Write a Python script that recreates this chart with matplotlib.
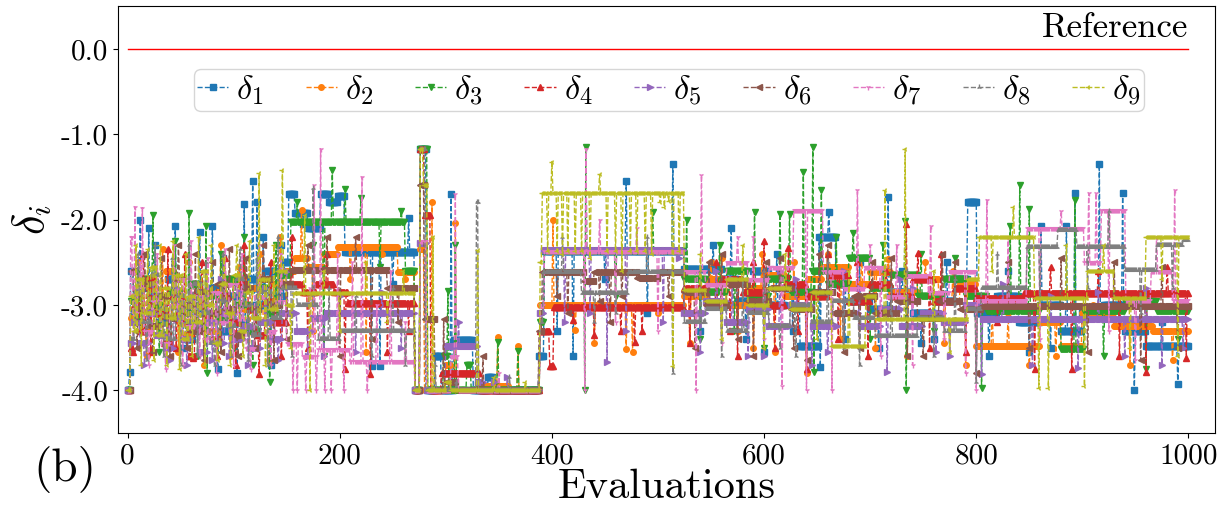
import numpy as np
import matplotlib
matplotlib.use("Agg")
import matplotlib.pyplot as plt

plt.rcParams['font.family'] = ['cmr10', 'DejaVu Serif']
plt.rcParams['mathtext.fontset'] = 'cm'
plt.rcParams['axes.unicode_minus'] = False

N_EVAL = 1001

# each series: held levels (start index, value) and one-point excursions (index, value)
d1_steps = [(0,-4.0),(2,-3.78),(3,-2.6),(6,-3.1),(10,-2.8),(16,-3.3),(22,-2.9),(30,-3.2),(38,-2.7),(46,-3.0),
            (55,-3.4),(62,-2.9),(70,-3.1),(78,-2.8),(86,-3.3),(95,-2.9),(104,-3.2),(112,-2.7),(120,-3.0),(130,-2.6),
            (140,-2.9),(148,-2.5),(152,-1.7),(158,-1.92),(170,-2.1),(182,-1.7),(190,-1.8),(198,-1.72),(205,-2.38),
            (271,-4.0),(276,-1.17),(282,-4.0),(290,-3.6),(296,-4.0),(308,-3.41),(326,-4.0),(340,-3.85),(345,-4.0),
            (388,-3.6),(393,-2.37),(525,-2.58),(560,-2.7),(575,-2.95),(590,-2.6),(605,-3.0),(620,-2.8),(634,-3.48),
            (652,-2.2),(668,-2.75),(680,-2.95),(700,-3.05),(720,-2.85),(740,-3.1),(760,-2.95),(780,-2.7),(792,-1.8),
            (801,-3.1),(820,-2.9),(840,-3.2),(860,-3.0),(880,-3.3),(900,-3.1),(920,-3.0),(940,-3.3),(960,-3.48)]
d1_spikes = [(12,-2.0),(20,-2.1),(26,-2.3),(45,-2.07),(52,-3.5),(68,-2.15),(80,-2.08),(85,-3.75),(90,-2.45),
             (103,-3.8),(110,-1.82),(118,-1.55),(122,-1.8),(128,-2.2),(135,-3.7),(145,-2.3),(165,-2.05),(230,-3.72),
             (238,-3.72),(250,-2.75),(265,-1.98),(305,-1.7),(405,-3.3),(420,-3.6),(450,-2.7),(470,-1.55),(490,-3.1),
             (514,-1.35),(540,-3.3),(552,-2.3),(569,-2.1),(583,-3.4),(600,-3.55),(612,-2.4),(627,-3.3),(653,-3.73),
             (661,-1.91),(676,-3.4),(690,-2.5),(708,-3.5),(717,-1.74),(730,-2.6),(748,-3.45),(760,-3.4),(772,-2.5),
             (812,-3.6),(830,-2.6),(850,-3.55),(861,-2.08),(870,-3.5),(885,-2.08),(893,-1.69),(916,-1.35),(938,-1.69),
             (949,-4.0),(975,-3.2),(990,-3.93)]

d2_steps = [(0,-4.0),(3,-3.15),(6,-2.9),(12,-3.3),(20,-2.8),(28,-3.1),(36,-2.6),(44,-3.0),(52,-3.35),(60,-2.75),
            (68,-3.0),(76,-3.3),(84,-2.85),(92,-3.1),(100,-2.7),(110,-3.05),(118,-2.8),(128,-3.2),(138,-2.75),
            (148,-2.6),(158,-2.45),(170,-2.55),(185,-2.4),(198,-2.32),(255,-2.62),(271,-4.0),(276,-2.35),(280,-4.0),
            (300,-3.7),(305,-4.0),(330,-3.95),(360,-4.0),(389,-3.0),(525,-2.9),(545,-2.7),(565,-3.0),(585,-2.8),
            (600,-2.65),(620,-2.9),(640,-2.7),(655,-2.55),(680,-2.75),(700,-2.62),(720,-2.85),(745,-2.7),(765,-2.95),
            (785,-2.75),(800,-3.48),(860,-3.2),(880,-3.48),(900,-3.1),(930,-3.25),(967,-3.31)]
d2_spikes = [(10,-2.5),(18,-3.6),(33,-2.35),(48,-3.55),(58,-2.5),(72,-3.7),(88,-2.3),(97,-3.6),(105,-2.55),
             (115,-3.5),(125,-2.4),(133,-3.65),(144,-2.2),(164,-1.89),(175,-3.3),(210,-2.7),(225,-3.55),(240,-2.4),
             (262,-2.7),(287,-1.8),(309,-2.04),(349,-3.37),(368,-3.48),(401,-2.0),(422,-3.29),(440,-3.45),
             (470,-3.52),(476,-3.55),(500,-3.1),(530,-3.45),(550,-2.5),(560,-2.45),(575,-3.3),(590,-3.5),
             (598,-2.4),(610,-3.55),(628,-2.5),(640,-3.8),(648,-2.6),(660,-2.4),(672,-3.4),(692,-2.45),(705,-3.5),
             (717,-2.46),(735,-3.6),(752,-2.5),(770,-3.45),(778,-2.6),(790,-3.7),(815,-3.0),(830,-3.1),(850,-3.7),
             (875,-3.6),(910,-3.0),(945,-3.7),(985,-3.65)]

d3_steps = [(0,-4.0),(3,-2.95),(8,-3.2),(14,-2.7),(24,-3.0),(32,-3.35),(40,-2.85),(50,-3.1),(60,-2.75),(68,-3.25),
            (76,-2.9),(84,-3.15),(94,-2.7),(104,-3.0),(114,-3.3),(124,-2.8),(132,-3.1),(142,-2.65),(154,-2.03),
            (262,-2.6),(271,-4.0),(276,-1.17),(283,-4.0),(298,-3.6),(303,-4.0),(320,-3.7),(324,-4.0),(389,-3.2),
            (393,-2.37),(525,-2.7),(545,-2.85),(565,-2.6),(585,-2.9),(605,-2.7),(625,-2.85),(645,-2.6),(660,-2.75),
            (680,-2.45),(700,-2.8),(720,-2.65),(745,-2.9),(770,-2.7),(790,-2.9),(810,-3.07),(860,-2.9),(880,-3.52),
            (902,-3.07),(940,-2.95),(970,-3.07)]
d3_spikes = [(10,-2.6),(24,-1.95),(30,-3.55),(45,-2.25),(58,-1.92),(66,-3.6),(74,-2.08),(75,-3.8),(88,-2.4),
             (100,-3.5),(110,-2.2),(118,-3.7),(134,-3.9),(140,-2.3),(160,-1.8),(175,-2.3),(185,-3.6),(193,-1.42),
             (205,-1.64),(220,-1.75),(238,-2.55),(258,-1.9),(302,-2.84),(309,-2.3),(349,-3.43),(368,-3.54),
             (431,-4.0),(432,-1.15),(460,-2.9),(495,-1.91),(527,-2.0),(540,-3.4),(558,-2.3),(572,-3.3),(591,-1.91),
             (600,-3.5),(615,-1.93),(624,-1.93),(637,-1.44),(646,-1.15),(647,-3.79),(654,-1.65),(668,-2.2),
             (684,-2.16),(700,-3.4),(712,-2.3),(733,-2.02),(734,-4.0),(748,-2.4),(760,-3.3),(780,-2.45),(805,-3.97),
             (832,-2.08),(841,-1.59),(850,-1.88),(893,-1.77),(920,-3.6),(960,-3.75),(990,-3.4)]

d4_steps = [(0,-4.0),(3,-3.5),(6,-3.0),(12,-3.3),(18,-2.7),(26,-3.1),(34,-3.45),(42,-2.9),(50,-3.2),(58,-3.6),
            (64,-2.85),(72,-3.15),(80,-3.4),(88,-2.9),(96,-3.2),(106,-2.75),(114,-3.05),(122,-3.35),(130,-2.95),
            (140,-3.2),(150,-2.75),(165,-2.85),(178,-2.75),(195,-2.85),(208,-2.98),(271,-4.0),(276,-1.17),
            (280,-1.95),(286,-4.0),(296,-3.8),(332,-4.0),(389,-3.3),(398,-3.71),(402,-3.02),(525,-2.8),(545,-2.95),
            (560,-2.7),(580,-2.85),(600,-3.0),(620,-2.75),(640,-2.9),(660,-2.65),(680,-2.95),(700,-2.75),(720,-2.9),
            (740,-2.7),(760,-2.95),(780,-2.8),(800,-2.92),(845,-2.86)]
d4_spikes = [(5,-3.55),(15,-2.4),(22,-3.55),(38,-2.35),(46,-3.5),(54,-2.4),(62,-3.62),(70,-2.5),(84,-3.6),
             (92,-2.45),(102,-3.7),(110,-2.3),(124,-3.81),(135,-2.5),(145,-3.6),(155,-2.2),(170,-3.5),(188,-2.4),
             (205,-3.75),(229,-3.81),(245,-3.55),(265,-3.3),(313,-3.8),(420,-3.18),(440,-3.35),(465,-3.3),
             (478,-3.44),(485,-3.3),(530,-3.45),(555,-2.5),(568,-3.3),(575,-3.6),(590,-2.5),(600,-2.25),(610,-3.5),
             (623,-2.33),(632,-3.3),(640,-3.75),(660,-2.4),(670,-3.4),(688,-2.5),(698,-3.6),(715,-2.6),(734,-2.05),
             (745,-2.39),(756,-3.5),(767,-2.4),(790,-3.55),(820,-3.2),(855,-3.75),(870,-2.55),(890,-3.75),
             (915,-2.6),(935,-3.6),(960,-3.78),(980,-2.55),(998,-3.62)]

d5_steps = [(0,-4.0),(3,-3.45),(6,-3.2),(12,-3.45),(20,-3.1),(28,-3.35),(36,-3.5),(44,-3.15),(52,-3.4),(60,-3.25),
            (68,-3.55),(76,-3.2),(84,-3.45),(92,-3.1),(100,-3.4),(110,-3.25),(118,-3.5),(126,-3.2),(136,-3.4),
            (146,-3.1),(160,-3.3),(175,-3.15),(188,-3.09),(271,-4.0),(276,-2.28),(282,-4.0),(300,-3.48),(330,-3.9),
            (336,-4.0),(389,-3.1),(393,-2.36),(525,-3.1),(545,-2.95),(565,-3.2),(585,-3.05),(605,-3.25),(625,-3.0),
            (645,-3.25),(670,-3.1),(690,-3.25),(710,-3.05),(730,-3.25),(750,-3.1),(770,-3.2),(790,-3.0),(805,-3.17)]
d5_spikes = [(8,-2.8),(16,-3.7),(24,-2.75),(40,-3.65),(48,-2.8),(56,-3.7),(64,-2.9),(80,-3.65),(88,-2.7),
             (96,-3.6),(106,-2.85),(114,-3.7),(130,-2.8),(142,-3.65),(150,-2.6),(170,-3.6),(185,-3.6),(200,-2.9),
             (215,-3.55),(240,-2.85),(258,-3.5),(312,-3.2),(345,-3.9),(358,-3.85),(412,-3.2),(436,-3.1),
             (452,-3.67),(470,-3.3),(505,-3.2),(520,-2.45),(540,-3.55),(555,-2.6),(570,-2.7),(585,-3.6),(600,-3.6),
             (615,-2.6),(630,-2.7),(645,-3.7),(660,-3.55),(675,-2.6),(690,-2.8),(716,-3.79),(728,-2.7),(740,-2.8),
             (762,-3.55),(775,-3.6),(805,-3.81),(825,-2.75),(853,-3.7),(870,-2.9),(896,-3.74),(915,-2.85),
             (940,-3.6),(960,-2.8),(975,-3.7),(995,-3.5)]

d6_steps = [(0,-4.0),(3,-2.6),(6,-3.05),(12,-2.75),(20,-3.25),(28,-2.9),(36,-3.15),(44,-2.7),(52,-3.0),(60,-3.3),
            (68,-2.85),(76,-3.1),(84,-2.75),(92,-3.05),(100,-3.35),(108,-2.8),(116,-3.05),(124,-2.7),(134,-3.0),
            (144,-2.75),(154,-2.59),(245,-2.8),(271,-4.0),(276,-1.6),(280,-3.17),(290,-4.0),(300,-3.9),(310,-4.0),
            (388,-3.3),(391,-2.61),(430,-2.72),(440,-2.61),(480,-2.68),(500,-2.62),(525,-2.85),(545,-3.0),
            (565,-2.75),(585,-2.95),(605,-2.8),(625,-3.05),(645,-2.85),(665,-3.1),(685,-2.9),(705,-3.1),(725,-2.95),
            (745,-3.15),(765,-2.95),(785,-3.05),(805,-3.01)]
d6_spikes = [(9,-3.5),(16,-2.4),(24,-3.55),(32,-2.45),(40,-3.6),(48,-2.3),(56,-3.5),(64,-2.4),(72,-3.65),
             (80,-2.5),(88,-3.55),(96,-2.35),(104,-3.6),(112,-2.45),(120,-3.5),(128,-2.3),(138,-3.65),(150,-3.4),
             (170,-2.3),(188,-2.2),(200,-3.6),(215,-2.2),(230,-3.4),(255,-3.2),(298,-3.17),(335,-3.6),(405,-2.9),
             (415,-3.1),(445,-2.95),(455,-3.2),(466,-2.9),(510,-2.9),(535,-3.5),(548,-2.5),(560,-2.4),(575,-3.4),
             (590,-3.6),(602,-2.5),(615,-2.45),(628,-3.5),(640,-3.65),(652,-2.4),(660,-2.3),(675,-3.55),(690,-3.5),
             (702,-2.5),(720,-2.45),(735,-3.6),(750,-3.6),(768,-2.4),(780,-2.5),(800,-3.8),(830,-2.5),(850,-3.5),
             (880,-2.45),(905,-3.55),(930,-2.5),(955,-3.65),(975,-2.55),(990,-3.5)]

d7_steps = [(0,-4.0),(3,-2.2),(5,-3.1),(10,-2.8),(16,-3.3),(24,-2.95),(32,-3.45),(40,-3.0),(48,-2.7),(56,-3.25),
            (64,-2.9),(72,-3.4),(80,-2.85),(88,-3.2),(96,-2.75),(104,-3.15),(112,-3.5),(120,-2.9),(130,-3.3),
            (140,-2.95),(150,-3.45),(165,-3.6),(180,-3.52),(210,-3.66),(271,-4.0),(276,-2.25),(282,-4.0),
            (305,-3.6),(312,-4.0),(389,-3.0),(393,-2.37),(525,-2.6),(545,-2.75),(565,-2.5),(585,-2.7),(605,-2.55),
            (628,-1.89),(656,-2.6),(675,-2.8),(695,-2.55),(715,-2.9),(735,-2.65),(755,-2.85),(775,-2.6),(800,-2.94),
            (848,-2.1),(902,-2.5),(918,-1.89),(941,-2.94),(965,-2.6),(985,-2.94)]
d7_spikes = [(7,-1.85),(12,-2.5),(14,-1.86),(20,-3.7),(28,-2.4),(36,-3.75),(44,-2.3),(52,-3.7),(60,-2.25),
             (68,-3.6),(76,-2.45),(84,-3.8),(92,-2.35),(100,-3.7),(108,-2.4),(116,-3.75),(124,-2.3),(135,-3.7),
             (145,-2.4),(156,-4.0),(160,-4.0),(168,-4.0),(172,-2.8),(176,-1.6),(178,-4.0),(182,-1.17),(186,-4.0),
             (192,-4.0),(198,-2.4),(204,-4.0),(212,-2.5),(221,-1.5),(226,-4.0),(235,-3.0),(248,-2.6),(262,-3.2),
             (309,-1.7),(350,-3.8),(431,-4.0),(432,-1.17),(445,-2.0),(460,-3.2),(480,-2.1),(500,-3.3),(536,-4.0),
             (541,-1.48),(560,-3.45),(575,-2.2),(590,-2.2),(600,-3.4),(617,-3.95),(640,-4.0),(664,-4.0),(688,-1.65),
             (700,-2.3),(710,-3.6),(725,-2.3),(740,-3.7),(757,-2.08),(770,-3.4),(790,-3.8),(800,-4.0),(810,-1.77),
             (830,-2.2),(860,-3.4),(880,-1.9),(906,-1.69),(913,-1.69),(925,-3.3),(950,-3.65),(970,-2.2),(987,-1.65)]

d8_steps = [(0,-4.0),(3,-3.4),(7,-2.85),(14,-3.2),(22,-2.65),(30,-3.05),(38,-3.4),(46,-2.9),(54,-3.2),(62,-2.75),
            (70,-3.1),(78,-3.45),(86,-2.95),(94,-3.25),(102,-2.7),(110,-3.0),(118,-3.35),(126,-2.85),(136,-3.15),
            (146,-2.8),(160,-3.0),(180,-3.4),(200,-3.31),(271,-4.0),(276,-1.17),(281,-4.0),(329,-1.79),(331,-4.0),
            (389,-3.2),(392,-2.61),(428,-2.86),(472,-2.61),(525,-3.2),(545,-3.05),(565,-3.3),(585,-3.1),(605,-3.25),
            (625,-3.0),(645,-3.2),(665,-2.95),(685,-3.15),(705,-3.36),(745,-3.15),(770,-3.3),(790,-3.05),(805,-2.8),
            (848,-2.32),(877,-2.12),(895,-2.32),(940,-2.59),(970,-2.3),(995,-2.24)]
d8_spikes = [(10,-2.4),(18,-3.65),(26,-2.3),(34,-3.6),(42,-2.45),(50,-3.7),(58,-2.3),(66,-3.6),(74,-2.5),
             (82,-3.7),(90,-2.4),(98,-3.6),(106,-2.35),(114,-3.65),(122,-2.45),(132,-3.7),(142,-2.2),(155,-3.6),
             (175,-1.63),(190,-2.8),(215,-2.9),(230,-3.6),(250,-2.8),(262,-3.7),(290,-3.7),(310,-3.9),(360,-3.85),
             (410,-2.2),(440,-3.2),(460,-3.1),(490,-2.2),(514,-3.8),(540,-2.6),(560,-3.6),(580,-2.7),(600,-2.6),
             (615,-3.5),(630,-3.6),(660,-2.5),(675,-3.5),(690,-3.7),(720,-2.8),(735,-2.6),(760,-3.6),(780,-2.7),
             (800,-3.9),(820,-2.4),(860,-2.9),(905,-2.8),(925,-1.9),(955,-3.1),(985,-2.8)]

d9_steps = [(0,-4.0),(3,-2.9),(6,-3.3),(10,-2.7),(16,-3.1),(22,-2.55),(28,-3.35),(34,-2.8),(40,-3.15),(46,-2.65),
            (52,-3.4),(58,-2.9),(64,-3.2),(70,-2.6),(76,-3.0),(82,-3.45),(88,-2.75),(94,-3.1),(100,-2.65),
            (106,-3.3),(112,-2.85),(118,-3.15),(126,-2.7),(134,-3.05),(142,-2.6),(150,-3.0),(157,-2.86),(271,-4.0),
            (276,-1.17),(279,-1.6),(283,-4.0),(300,-3.9),(305,-4.0),(389,-2.5),(391,-1.69),(525,-2.82),(545,-2.95),
            (565,-2.7),(585,-3.0),(605,-2.8),(625,-3.05),(645,-2.85),(664,-3.48),(696,-2.9),(706,-3.17),
            (792,-2.7),(803,-2.21),(855,-2.92),(905,-2.6),(930,-2.92),(960,-2.21)]
d9_spikes = [(8,-2.3),(13,-3.7),(19,-2.35),(25,-3.65),(31,-2.3),(37,-3.7),(43,-2.25),(49,-3.75),(55,-2.4),
             (61,-3.6),(67,-2.2),(73,-3.7),(79,-2.3),(85,-3.65),(91,-2.45),(97,-3.7),(103,-2.3),(109,-3.6),
             (115,-2.25),(124,-1.46),(130,-3.7),(138,-2.3),(146,-1.42),(154,-3.5),(167,-1.95),(172,-4.0),
             (185,-2.6),(200,-3.3),(225,-2.5),(245,-3.2),(260,-2.6),(288,-2.2),(330,-2.36),(345,-3.85),(375,-3.9),
             (396,-2.37),(400,-1.32),(405,-2.37),(410,-2.4),(415,-2.37),(422,-2.37),(428,-2.37),(436,-2.45),
             (445,-1.47),(452,-2.37),(460,-2.37),(466,-2.6),(474,-2.37),(480,-2.37),(488,-2.37),(494,-2.4),
             (502,-1.8),(506,-1.85),(510,-1.78),(514,-3.72),(520,-2.37),(540,-2.4),(560,-3.4),(580,-2.3),
             (600,-3.5),(620,-2.4),(650,-3.4),(680,-2.6),(714,-1.65),(733,-1.17),(760,-2.6),(775,-3.55),
             (815,-2.6),(835,-1.85),(859,-3.97),(868,-3.97),(885,-2.3),(902,-3.95),(920,-2.3),(945,-3.5),
             (975,-2.7),(990,-3.6)]

series_steps = [d1_steps, d2_steps, d3_steps, d4_steps, d5_steps, d6_steps, d7_steps, d8_steps, d9_steps]
series_spikes = [d1_spikes, d2_spikes, d3_spikes, d4_spikes, d5_spikes, d6_spikes, d7_spikes, d8_spikes, d9_spikes]
labels = [r'$\delta_{%d}$' % (i + 1) for i in range(9)]
reference_value = 0.0

xticks = [0, 200, 400, 600, 800, 1000]
yticks = [0.0, -1.0, -2.0, -3.0, -4.0]


def build_series(steps, spikes, n):
    y = np.empty(n)
    starts = [s for s, _ in steps] + [n]
    for (s, v), e in zip(steps, starts[1:]):
        y[s:e] = v
    for i, v in spikes:
        y[i] = v
    return y


def main():
    fig = plt.figure(figsize=(12.25, 5.13), dpi=100)
    ax = fig.add_axes([0.0963, 0.156, 0.8955, 0.832])

    x = np.arange(N_EVAL)
    markers = ['s', 'o', 'v', '^', '>', '<', '1', '2', '3']
    for k in range(9):
        y = build_series(series_steps[k], series_spikes[k], N_EVAL)
        ax.plot(x, y, linestyle='--', linewidth=1.0, marker=markers[k], markersize=4,
                color='C%d' % k, label=labels[k])

    ax.plot([0, 1000], [reference_value, reference_value], color='red', linewidth=1.0)
    ax.text(1000, reference_value + 0.06, 'Reference', ha='right', va='bottom', fontsize=25)

    ax.set_xlim(-9, 1025)
    ax.set_ylim(-4.5, 0.5)
    ax.set_xticks(xticks)
    ax.set_xticklabels([str(t) for t in xticks], fontsize=21)
    ax.set_yticks(yticks)
    ax.set_yticklabels(['%.1f' % t for t in yticks], fontsize=21)
    ax.set_xlabel('Evaluations', fontsize=30.5, labelpad=0)
    ax.set_ylabel(r'$\delta_i$', fontsize=32, labelpad=6)

    ax.legend(loc='upper center', bbox_to_anchor=(0.502, 0.852), ncol=9, fontsize=25,
              handlelength=0.9, handletextpad=0.23, columnspacing=1.2, borderpad=0.1,
              borderaxespad=0.0)

    fig.text(0.053, 0.084, '(b)', fontsize=34, ha='center', va='center')
    fig.savefig('out.png', dpi=100)


if __name__ == "__main__":
    main()
